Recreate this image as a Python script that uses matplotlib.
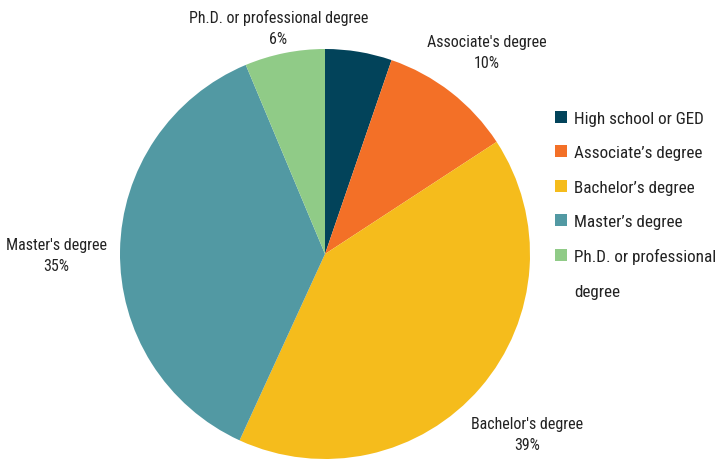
import numpy as np
import matplotlib.pyplot as plt
from matplotlib.patches import Patch
from matplotlib.transforms import offset_copy

plt.rcParams["font.family"] = ["Roboto Condensed", "Roboto", "DejaVu Sans"]

categories = ["High school or GED", "Associate’s degree", "Bachelor’s degree",
              "Master’s degree", "Ph.D. or professional"]
pie_labels = ["", "Associate's degree", "Bachelor's degree",
              "Master's degree", "Ph.D. or professional degree"]
shares = [5, 10, 39, 35, 6]
colors = ["#02435a", "#f37027", "#f5bc1c", "#5299a3", "#90cb87"]

fig = plt.figure(figsize=(7.15, 4.6), dpi=100)
ax = fig.add_axes([120 / 715, 0, 410 / 715, 410 / 460])

wedges, _ = ax.pie(shares, colors=colors, startangle=90, counterclock=False)
ax.set_xlim(-1, 1)
ax.set_ylim(-1, 1)
ax.set_aspect("equal")

# labels along the slice middle, pushed out a bit more on the sides
lab_tr = offset_copy(ax.transData, fig=fig, y=-3.8, units="points")
for w, lab, s in zip(wedges, pie_labels, shares):
    if not lab:
        continue
    ang = np.deg2rad((w.theta1 + w.theta2) / 2)
    dx, dy = np.cos(ang), np.sin(ang)
    dist = 1.06 + 0.54 * abs(dx) - 0.29 * dx ** 2
    ax.text(dist * dx, dist * dy, f"{lab}\n{s}%", ha="center", va="center",
            fontsize=11.5, color="#222222", linespacing=1.5, transform=lab_tr)

handles = list(wedges) + [Patch(visible=False)]
leg = fig.legend(handles, categories + ["degree"], loc="upper left",
                 bbox_to_anchor=(555 / 715, 1 - 112 / 460), frameon=False,
                 fontsize=12.3, handlelength=0.7, handleheight=0.7,
                 handletextpad=0.4, labelspacing=1.13, borderpad=0,
                 borderaxespad=0)
for t in leg.get_texts():
    t.set_color("#222222")

fig.savefig("out.png", dpi=100)
